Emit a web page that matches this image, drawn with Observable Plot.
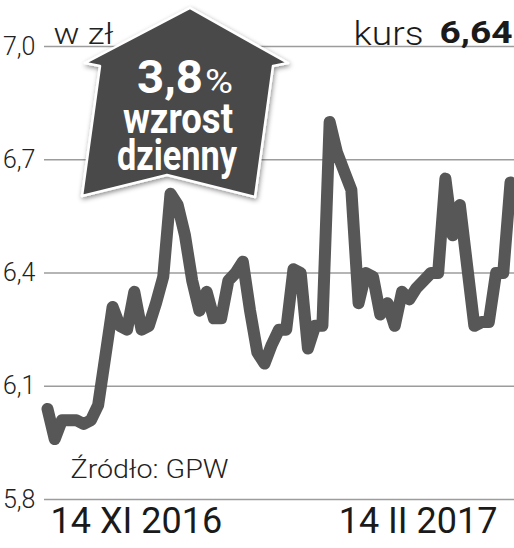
<!DOCTYPE html>
<html><head><meta charset="utf-8">
<script src="https://cdn.jsdelivr.net/npm/d3@7"></script>
<script src="https://cdn.jsdelivr.net/npm/@observablehq/plot@0.6"></script>
<style>
body{margin:0;background:#fff}
#chart svg{display:block;overflow:hidden}
</style>
</head><body><div id="chart"></div>
<script>
// Daily closing price, 14 XI 2016 – 14 II 2017 (trading days)
const prices = [6.04,5.96,6.01,6.01,6.01,6.00,6.01,6.05,6.18,6.31,
  6.26,6.25,6.35,6.25,6.26,6.32,6.39,6.61,6.58,6.50,
  6.38,6.30,6.35,6.28,6.28,6.38,6.40,6.43,6.30,6.19,
  6.16,6.21,6.25,6.25,6.41,6.40,6.20,6.26,6.26,6.80,
  6.72,6.67,6.62,6.32,6.40,6.39,6.29,6.32,6.26,6.35,
  6.33,6.36,6.38,6.40,6.40,6.65,6.50,6.58,6.42,6.26,
  6.27,6.27,6.40,6.40,6.64];
const yTicks = [5.8, 6.1, 6.4, 6.7, 7.0];
const xLabels = ["14 XI 2016", "14 II 2017"];
const unitLabel = "w zł";
const kursLabel = "kurs";
const lastValueLabel = "6,64";
const badgeValue = "3,8";
const badgeLines = ["wzrost", "dzienny"];
const sourceLabel = "Źródło: GPW";

const data = prices.map((v, i) => ({i, v}));
const fmt = d => d.toFixed(1).replace(".", ",");
const font = "Roboto, 'Liberation Sans', sans-serif";

const svg = Plot.plot({
  width: 514, height: 548,
  marginLeft: 44, marginRight: 0, marginTop: 46, marginBottom: 49,
  x: {domain: [0, prices.length - 1], insetLeft: 3, insetRight: 4, axis: null},
  y: {domain: [5.8, 7.0], axis: null},
  style: {fontFamily: font, background: "#fff", overflow: "hidden"},
  marks: [
    Plot.ruleY(yTicks, {stroke: "#9c9c9c", strokeWidth: 1.6}),
    Plot.axisY({ticks: yTicks, tickFormat: fmt, tickSize: 0, tickPadding: 9,
      fontSize: 25, fontWeight: 300, fill: "#222", label: null}),
    Plot.line(data, {x: "i", y: "v", stroke: "#575757", strokeWidth: 12,
      strokeLinejoin: "round", strokeLinecap: "round"}),
    Plot.text([xLabels[0]], {frameAnchor: "bottom-left", textAnchor: "start", dx: 6, dy: 33,
      fontSize: 36, fontWeight: 400, fill: "#1a1a1a"}),
    Plot.text([xLabels[1]], {frameAnchor: "bottom-right", textAnchor: "end", dx: -17, dy: 33,
      fontSize: 36, fontWeight: 400, fill: "#1a1a1a"}),
    Plot.text([sourceLabel], {frameAnchor: "bottom-left", textAnchor: "start", dx: 26, dy: -22,
      fontSize: 26, fontWeight: 300, fill: "#222"}),
    Plot.text([unitLabel], {frameAnchor: "top-left", textAnchor: "start", dx: 9, dy: -24,
      fontSize: 30, fontWeight: 300, fill: "#222"}),
    Plot.text([kursLabel], {frameAnchor: "top-right", textAnchor: "end", dx: -91, dy: -26,
      fontSize: 34, fontWeight: 300, fill: "#1a1a1a"}),
    Plot.text([lastValueLabel], {frameAnchor: "top-right", textAnchor: "end", dx: -2, dy: -26,
      fontSize: 32, fontWeight: 700, fill: "#1a1a1a"})
  ]
});

const s = d3.select(svg);
// stretch a few header texts to the reference widths
const widths = {[unitLabel]: 60, [kursLabel]: 70, [lastValueLabel]: 73, [sourceLabel]: 158};
s.selectAll("text").each(function() {
  const w = widths[this.textContent];
  if (w) d3.select(this).attr("textLength", w).attr("lengthAdjust", "spacingAndGlyphs");
});

// Badge (decorative arrow with the daily change)
const defs = s.append("defs");
const f = defs.append("filter").attr("id", "sh").attr("x", "-20%").attr("y", "-20%").attr("width", "140%").attr("height", "140%");
f.append("feDropShadow").attr("dx", 1).attr("dy", 2).attr("stdDeviation", 2.5)
  .attr("flood-color", "#000").attr("flood-opacity", 0.45);
const badge = s.append("g").attr("text-anchor", "start");
const shape = [[190,8],[288,63],[273,66],[255,197],[167,175],[82,196],[100,66],[85,63]];
badge.append("polygon")
  .attr("points", shape.map(p => p.join(",")).join(" "))
  .attr("fill", "#4a4a4a").attr("stroke", "#fff").attr("stroke-width", 2.5)
  .attr("stroke-linejoin", "round").attr("filter", "url(#sh)");
const t1 = badge.append("text").attr("x", 137).attr("y", 93).attr("text-anchor", "start")
  .attr("fill", "#fff").attr("font-family", font);
t1.append("tspan").attr("font-size", 47).attr("font-weight", 700)
  .attr("textLength", 66).attr("lengthAdjust", "spacingAndGlyphs").text(badgeValue);
t1.append("tspan").attr("font-size", 34).attr("font-weight", 400).attr("dx", 2)
  .attr("textLength", 28).attr("lengthAdjust", "spacingAndGlyphs").text("%");
badge.append("text").attr("x", 123).attr("y", 133).attr("text-anchor", "start")
  .attr("fill", "#fff").attr("font-family", font).attr("font-size", 42).attr("font-weight", 700)
  .attr("textLength", 110).attr("lengthAdjust", "spacingAndGlyphs").text(badgeLines[0]);
badge.append("text").attr("x", 117).attr("y", 170).attr("text-anchor", "start")
  .attr("fill", "#fff").attr("font-family", font).attr("font-size", 42).attr("font-weight", 700)
  .attr("textLength", 120).attr("lengthAdjust", "spacingAndGlyphs").text(badgeLines[1]);

document.getElementById("chart").append(svg);
</script>
</body></html>
